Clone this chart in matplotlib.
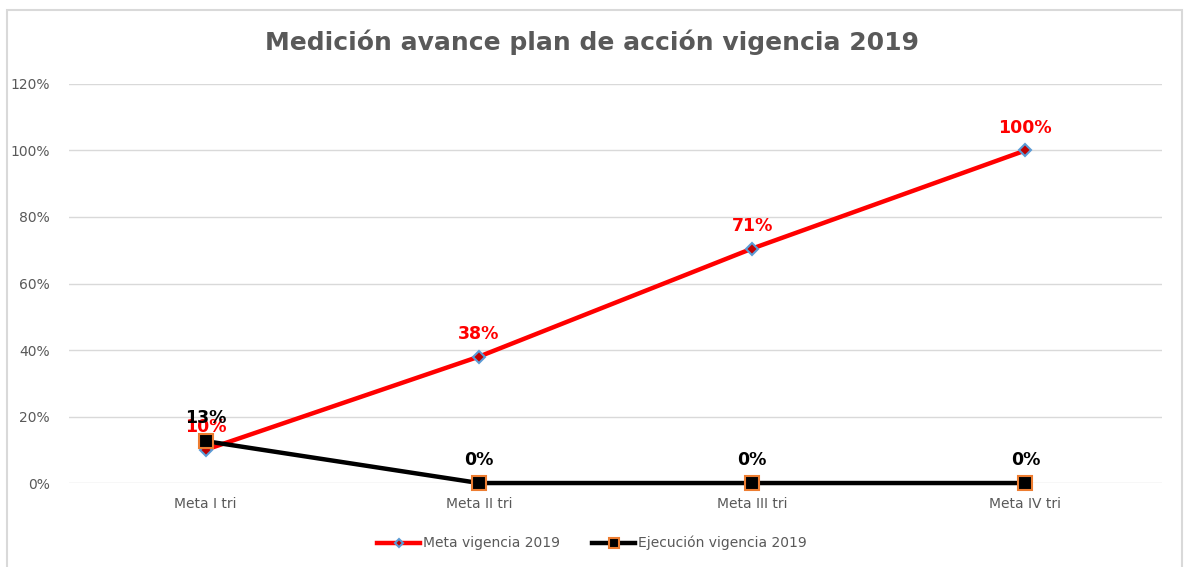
import matplotlib
matplotlib.use("Agg")
import matplotlib.pyplot as plt
from matplotlib.patches import Rectangle
from matplotlib.ticker import FuncFormatter

categorias = ["Meta I tri", "Meta II tri", "Meta III tri", "Meta IV tri"]
meta = [0.10, 0.38, 0.705, 1.00]
ejecucion = [0.126, 0.0, 0.0, 0.0]
etiquetas_meta = ["10%", "38%", "71%", "100%"]
etiquetas_ejec = ["13%", "0%", "0%", "0%"]

gris = "#595959"

fig = plt.figure(figsize=(11.84, 5.67), dpi=100)
ax = fig.add_axes([0.0583, 0.1481, 0.9231, 0.7038])

x = list(range(len(categorias)))
ax.plot(x, meta, color="#FF0000", lw=3.2, marker="D", markersize=6,
        markerfacecolor="#C00000", markeredgecolor="#5B9BD5", markeredgewidth=1.5,
        label="Meta vigencia 2019", zorder=3, clip_on=False)
ax.plot(x, ejecucion, color="#000000", lw=3.2, marker="s", markersize=9.5,
        markerfacecolor="#000000", markeredgecolor="#ED7D31", markeredgewidth=1.5,
        label="Ejecución vigencia 2019", zorder=4, clip_on=False)

for xi, v, t in zip(x, meta, etiquetas_meta):
    ax.annotate(t, (xi, v), xytext=(0, 10), textcoords="offset points",
                ha="center", va="bottom", color="#FF0000", fontsize=12.5,
                fontweight="bold", zorder=5)
for xi, v, t in zip(x, ejecucion, etiquetas_ejec):
    ax.annotate(t, (xi, v), xytext=(0, 10), textcoords="offset points",
                ha="center", va="bottom", color="#000000", fontsize=12.5,
                fontweight="bold", zorder=5)

ax.set_xlim(-0.5, 3.5)
ax.set_ylim(0, 1.2)
ax.set_yticks([0, 0.2, 0.4, 0.6, 0.8, 1.0, 1.2])
ax.yaxis.set_major_formatter(FuncFormatter(lambda v, p: "%d%%" % round(v * 100)))
ax.set_xticks(x)
ax.set_xticklabels(categorias)
ax.tick_params(axis="both", length=0, colors=gris, labelsize=10)
ax.tick_params(axis="x", pad=10)
ax.tick_params(axis="y", pad=14)
ax.grid(axis="y", color="#D9D9D9", lw=1)
ax.set_axisbelow(True)
for s in ax.spines.values():
    s.set_visible(False)

fig.text(0.5, 0.925, "Medición avance plan de acción vigencia 2019", ha="center",
         va="center", fontsize=18, fontweight="bold", color=gris)

leg = fig.legend(loc="center", bbox_to_anchor=(0.5, 0.042), ncol=2, frameon=False,
                 fontsize=10, handlelength=3.1, columnspacing=2.3, handletextpad=0.2,
                 markerscale=0.75)
for t in leg.get_texts():
    t.set_color(gris)

# marco del grafico
fig.patches.append(Rectangle((0.0059, -0.05), 0.9924, 1.0324, transform=fig.transFigure,
                             fill=False, edgecolor="#D9D9D9", lw=1.5))

fig.savefig("out.png", dpi=100)
